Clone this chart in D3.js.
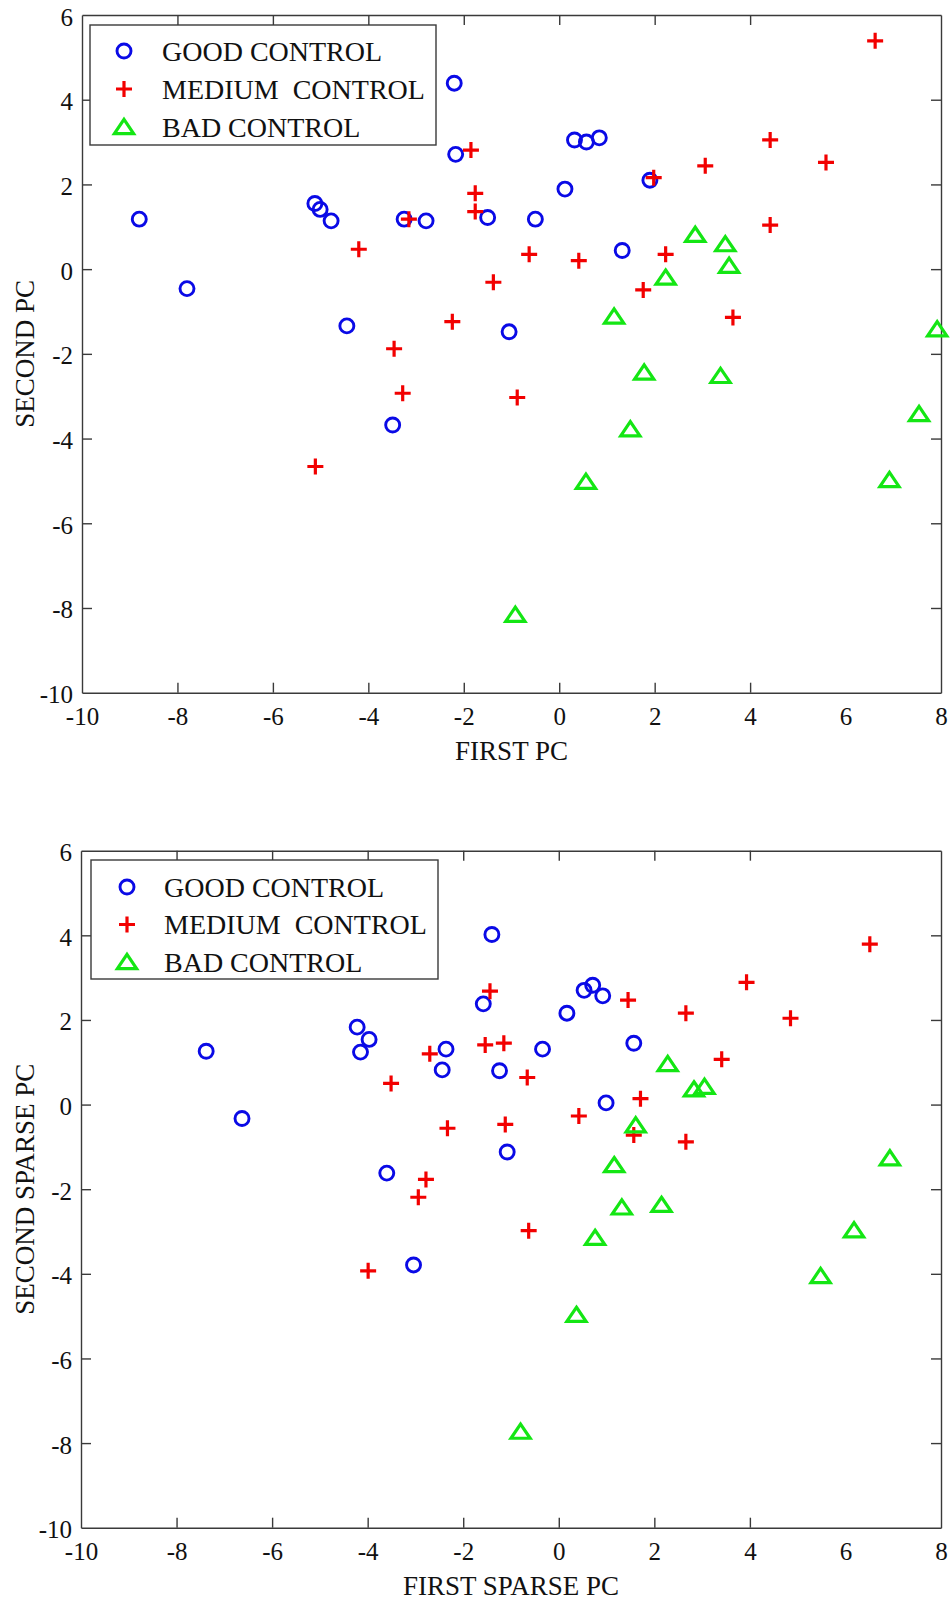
<!DOCTYPE html>
<html>
<head>
<meta charset="utf-8">
<script src="https://cdn.jsdelivr.net/npm/d3@7"></script>
<style>
  html, body { margin: 0; padding: 0; background: #ffffff; }
  svg { display: block; font-family: "Liberation Serif", "Times New Roman", serif; }
  text { white-space: pre; }
</style>
</head>
<body>
<svg id="chart" width="951" height="1600"></svg>
<script>
// Tick values shared by both panels
const xTicks = [-10, -8, -6, -4, -2, 0, 2, 4, 6, 8];
const yTicks = [-10, -8, -6, -4, -2, 0, 2, 4, 6];

// Legend entries
const groupNames = ["GOOD CONTROL", "MEDIUM  CONTROL", "BAD CONTROL"];

// Panel 1: ordinary principal components [first PC, second PC]
const goodPC = [
  [-8.80, 1.18], [-7.80, -0.46], [-5.12, 1.55], [-5.01, 1.41], [-4.78, 1.14],
  [-3.25, 1.18], [-2.79, 1.14], [-4.45, -1.34], [-3.49, -3.68], [-2.20, 4.39],
  [-2.17, 2.71], [-1.50, 1.22], [-0.50, 1.18], [0.12, 1.89], [0.32, 3.05],
  [0.57, 3.00], [0.84, 3.10], [1.90, 2.10], [1.32, 0.44], [-1.05, -1.48]
];
const mediumPC = [
  [-4.20, 0.47], [-3.15, 1.18], [-2.24, -1.24], [-3.46, -1.88], [-1.85, 2.81],
  [-1.76, 1.79], [-1.76, 1.36], [-3.28, -2.93], [-5.11, -4.66], [6.62, 5.39],
  [4.42, 3.05], [5.59, 2.52], [3.06, 2.44], [1.98, 2.16], [4.42, 1.04],
  [-0.63, 0.35], [0.41, 0.20], [2.23, 0.35], [-1.38, -0.31], [1.76, -0.49],
  [3.64, -1.14], [-0.88, -3.03]
];
const badPC = [
  [2.85, 0.81], [3.48, 0.59], [3.56, 0.08], [2.23, -0.20], [1.15, -1.12],
  [7.92, -1.42], [1.78, -2.44], [3.38, -2.52], [7.54, -3.42], [1.49, -3.78],
  [0.56, -5.02], [6.92, -4.98], [-0.92, -8.16]
];

// Panel 2: sparse principal components [first sparse PC, second sparse PC]
const goodSPC = [
  [-7.38, 1.26], [-6.63, -0.33], [-4.22, 1.83], [-3.97, 1.54], [-4.15, 1.24],
  [-2.36, 1.31], [-2.44, 0.82], [-3.60, -1.62], [-1.40, 4.02], [-1.58, 2.38],
  [0.71, 2.82], [0.53, 2.70], [0.92, 2.57], [0.17, 2.16], [-0.34, 1.31],
  [-1.24, 0.80], [1.57, 1.45], [0.99, 0.04], [-1.08, -1.12], [-3.04, -3.79]
];
const mediumSPC = [
  [-3.51, 0.50], [-2.70, 1.20], [-2.33, -0.56], [-2.78, -1.77], [-2.94, -2.19],
  [-3.99, -3.93], [6.51, 3.79], [3.93, 2.89], [4.85, 2.04], [2.66, 2.16],
  [1.45, 2.47], [-1.44, 2.68], [-1.54, 1.41], [-1.15, 1.45], [-0.66, 0.64],
  [3.41, 1.07], [1.71, 0.14], [0.42, -0.27], [-1.12, -0.47], [1.57, -0.72],
  [2.66, -0.88], [-0.63, -2.98]
];
const badSPC = [
  [2.28, 0.96], [2.83, 0.36], [3.05, 0.42], [1.61, -0.49], [6.93, -1.27],
  [1.16, -1.43], [1.32, -2.43], [2.15, -2.37], [6.18, -2.97], [0.76, -3.15],
  [5.48, -4.05], [0.37, -4.97], [-0.80, -7.73]
];

const colors = { good: "#0a0ae6", medium: "#f20000", bad: "#14e614" };
const axisColor = "#3a3a3a";
// Plain hyphen-minus tick labels
const tickFmt = d => String(d);

const svg = d3.select("#chart");

// Marker shapes (drawn around the origin)
const crossPath = "M-8,0H8M0,-8V8";
const triPath = "M0,-7.6L9.6,6.6L-9.6,6.6Z";

function drawMarker(g, kind, cx, cy) {
  if (kind === "good") {
    g.append("circle").attr("cx", cx).attr("cy", cy).attr("r", 7)
      .attr("fill", "none").attr("stroke", colors.good).attr("stroke-width", 2.9);
  } else if (kind === "medium") {
    g.append("path").attr("d", crossPath).attr("transform", `translate(${cx},${cy})`)
      .attr("fill", "none").attr("stroke", colors.medium).attr("stroke-width", 3.2);
  } else {
    g.append("path").attr("d", triPath).attr("transform", `translate(${cx},${cy})`)
      .attr("fill", "none").attr("stroke", colors.bad).attr("stroke-width", 3.2)
      .attr("stroke-linejoin", "miter");
  }
}

function drawPanel(opts) {
  const { left, right, top, bottom, series, xLabel, yLabel, legend } = opts;
  const x = d3.scaleLinear().domain([-10, 8]).range([left, right]);
  const y = d3.scaleLinear().domain([-10, 6]).range([bottom, top]);
  const g = svg.append("g");

  const styleAxis = sel => {
    sel.select(".domain").attr("stroke", axisColor).attr("stroke-width", 1.4);
    sel.selectAll(".tick line").attr("stroke", axisColor).attr("stroke-width", 1.4);
    sel.selectAll(".tick text").attr("fill", "#111").attr("font-size", 25)
      .attr("font-family", "Liberation Serif, Times New Roman, serif");
  };

  // Bottom axis with labels, ticks pointing inward
  g.append("g").attr("transform", `translate(0,${bottom})`)
    .call(d3.axisBottom(x).tickValues(xTicks).tickFormat(tickFmt)
      .tickSizeInner(-10).tickSizeOuter(0).tickPadding(15))
    .call(styleAxis);
  // Top axis: ticks only
  g.append("g").attr("transform", `translate(0,${top})`)
    .call(d3.axisTop(x).tickValues(xTicks).tickFormat("")
      .tickSizeInner(-10).tickSizeOuter(0))
    .call(styleAxis);
  // Left axis with labels
  g.append("g").attr("transform", `translate(${left},0)`)
    .call(d3.axisLeft(y).tickValues(yTicks).tickFormat(tickFmt)
      .tickSizeInner(-10).tickSizeOuter(0).tickPadding(9))
    .call(styleAxis)
    .selectAll(".tick text").attr("dy", "0.4em");
  // Right axis: ticks only
  g.append("g").attr("transform", `translate(${right},0)`)
    .call(d3.axisRight(y).tickValues(yTicks).tickFormat("")
      .tickSizeInner(-10).tickSizeOuter(0))
    .call(styleAxis);

  // Hide tick marks that coincide with the frame corners
  g.selectAll(".tick").filter(d => d === -10 || d === 8 || d === 6)
    .select("line").attr("stroke-opacity", 0);

  // Data points
  const pts = g.append("g");
  series.forEach(s => {
    s.data.forEach(d => drawMarker(pts, s.kind, x(d[0]), y(d[1])));
  });

  // Axis titles
  g.append("text").attr("x", (left + right) / 2).attr("y", bottom + 67)
    .attr("text-anchor", "middle").attr("font-size", 27).attr("fill", "#111")
    .text(xLabel);
  g.append("text")
    .attr("transform", `translate(34,${(top + bottom) / 2}) rotate(-90)`)
    .attr("text-anchor", "middle").attr("font-size", 27).attr("fill", "#111")
    .text(yLabel);

  // Legend
  const lg = g.append("g");
  lg.append("rect").attr("x", legend.x).attr("y", legend.y)
    .attr("width", legend.w).attr("height", legend.h)
    .attr("fill", "#fff").attr("stroke", axisColor).attr("stroke-width", 1.4);
  series.forEach((s, i) => {
    const cy = legend.y + legend.row0 + i * legend.step;
    drawMarker(lg, s.kind, legend.x + legend.markerDx, cy);
    lg.append("text").attr("x", legend.x + legend.textDx).attr("y", cy)
      .attr("dy", "0.35em").attr("font-size", 28).attr("fill", "#111")
      .text(groupNames[i]);
  });
}

drawPanel({
  left: 82, right: 941, top: 15, bottom: 692.7,
  series: [
    { kind: "good", data: goodPC },
    { kind: "medium", data: mediumPC },
    { kind: "bad", data: badPC }
  ],
  xLabel: "FIRST PC", yLabel: "SECOND PC",
  legend: { x: 90, y: 25, w: 346, h: 120, row0: 26, step: 38, markerDx: 34, textDx: 72 }
});

drawPanel({
  left: 81, right: 941, top: 850.7, bottom: 1527.7,
  series: [
    { kind: "good", data: goodSPC },
    { kind: "medium", data: mediumSPC },
    { kind: "bad", data: badSPC }
  ],
  xLabel: "FIRST SPARSE PC", yLabel: "SECOND SPARSE PC",
  legend: { x: 91, y: 860, w: 347, h: 119, row0: 27, step: 37.5, markerDx: 36, textDx: 73 }
});
</script>
</body>
</html>
